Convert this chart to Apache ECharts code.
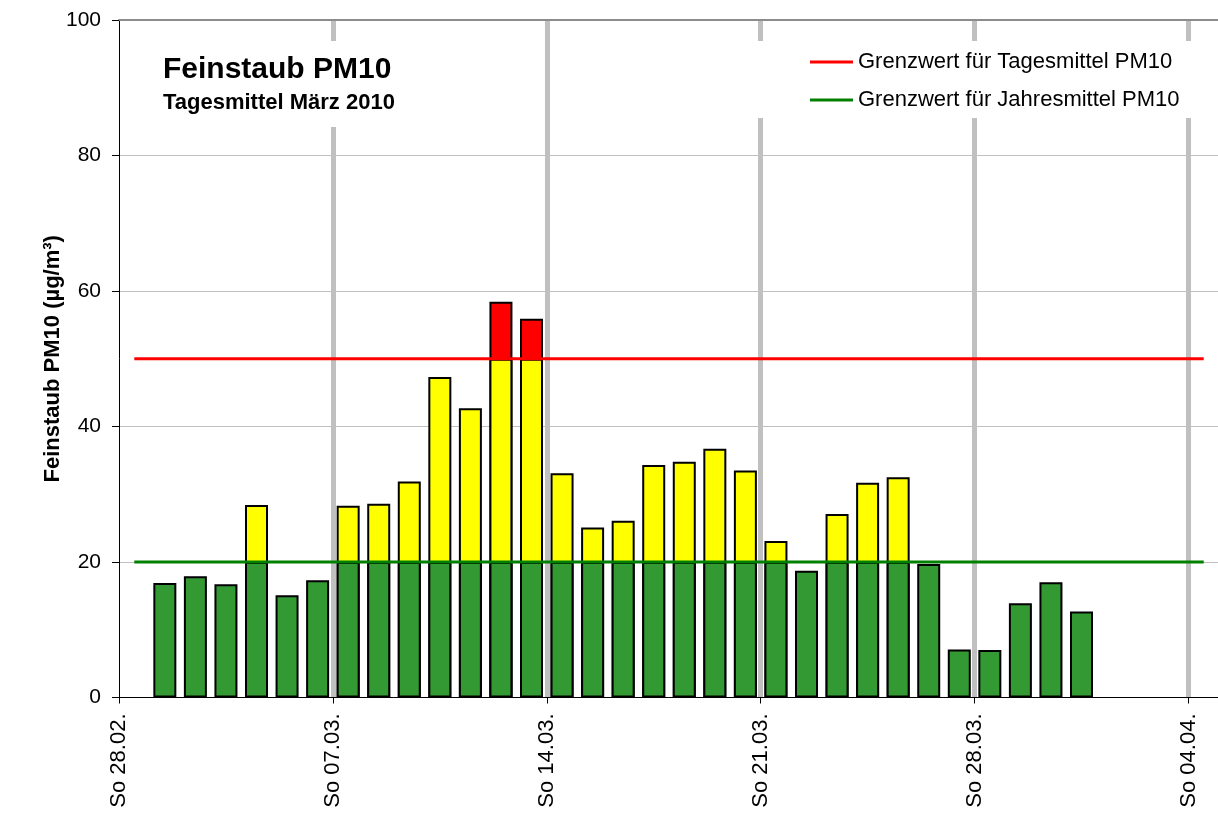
<!DOCTYPE html>
<html>
<head>
<meta charset="utf-8">
<title>Feinstaub PM10 März 2010</title>
<script src="https://cdn.jsdelivr.net/npm/echarts@6/dist/echarts.min.js"></script>
<style>
    html, body { margin: 0; padding: 0; background: #fff; }
    #chart { width: 1218px; height: 815px; }
</style>
</head>
<body>
<div id="chart"></div>
<script>
// one slot per day, 28.02. - 04.04.
var dates = ["28.02.", "01.03.", "02.03.", "03.03.", "04.03.", "05.03.", "06.03.", "07.03.", "08.03.", "09.03.",
    "10.03.", "11.03.", "12.03.", "13.03.", "14.03.", "15.03.", "16.03.", "17.03.", "18.03.", "19.03.",
    "20.03.", "21.03.", "22.03.", "23.03.", "24.03.", "25.03.", "26.03.", "27.03.", "28.03.", "29.03.",
    "30.03.", "31.03.", "01.04.", "02.04.", "03.04.", "04.04."];
var tickLabels = ["So 28.02.", "So 07.03.", "So 14.03.", "So 21.03.", "So 28.03.", "So 04.04."];
// Tagesmittel PM10 in µg/m³ (null = kein Wert)
var pm10 = [null, 16.9, 17.9, 16.7, 28.4, 15.1, 17.3, 28.3, 28.6, 31.9,
    47.3, 42.7, 58.4, 55.9, 33.1, 25.1, 26.1, 34.3, 34.8, 36.7,
    33.5, 23.1, 18.7, 27.1, 31.7, 32.5, 19.7, 7.1, 7.0, 13.9,
    17.0, 12.7, null, null, null, null];
var dailyLimit = 50;
var yearlyLimit = 20;
var dailyName = "Grenzwert für Tagesmittel PM10";
var yearlyName = "Grenzwert für Jahresmittel PM10";

var font = "'Liberation Sans', Arial, sans-serif";

// bars are overlaid: full value (red), capped at 50 (yellow), capped at 20 (green)
var redPart = [], yellowPart = [], greenPart = [], dailyLine = [], yearlyLine = [];
for (var i = 0; i < dates.length; i++) {
    var v = pm10[i];
    redPart.push([i + 0.5, v !== null && v > dailyLimit ? v : null]);
    yellowPart.push([i + 0.5, v !== null && v > yearlyLimit ? Math.min(v, dailyLimit) : null]);
    greenPart.push([i + 0.5, v !== null ? Math.min(v, yearlyLimit) : null]);
    dailyLine.push([i + 0.5, dailyLimit]);
    yearlyLine.push([i + 0.5, yearlyLimit]);
}

function barSeries(name, color, data) {
    return {
        name: name,
        type: "bar",
        barWidth: 23,
        barGap: "-100%",
        data: data,
        itemStyle: { color: color, borderColor: "#000", borderWidth: 2 },
        emphasis: { disabled: true },
        z: 2
    };
}
function limitSeries(name, color, data) {
    return {
        name: name,
        type: "line",
        data: data,
        symbol: "none",
        lineStyle: { color: color, width: 3 },
        itemStyle: { color: color },
        z: 4
    };
}

var chart = echarts.init(document.getElementById("chart"));
chart.setOption({
    animation: false,
    backgroundColor: "#fff",
    textStyle: { fontFamily: font },
    title: {
        text: "Feinstaub PM10",
        subtext: "Tagesmittel März 2010",
        left: 148,
        top: 41,
        padding: [14, 15, 13, 15],
        itemGap: 7,
        backgroundColor: "#fff",
        textStyle: { fontFamily: font, fontSize: 30, fontWeight: "bold", color: "#000", lineHeight: 30 },
        subtextStyle: { fontFamily: font, fontSize: 22, fontWeight: "bold", color: "#000", lineHeight: 22 }
    },
    legend: {
        data: [dailyName, yearlyName],
        orient: "vertical",
        left: 752,
        top: 41,
        padding: [10, 15, 7, 58],
        itemGap: 16,
        icon: "rect",
        itemWidth: 43,
        itemHeight: 3,
        backgroundColor: "#fff",
        textStyle: { fontFamily: font, fontSize: 22, color: "#000", lineHeight: 22 }
    },
    grid: { left: 119, right: -1, top: 20, bottom: 117.5, outerBoundsMode: "none" },
    xAxis: [{
        type: "value",
        min: 0,
        max: 36,
        interval: 7,
        axisLine: { show: true, lineStyle: { color: "#000", width: 1 } },
        axisTick: { show: true, length: 6, lineStyle: { color: "#000" } },
        axisLabel: {
            rotate: 90,
            margin: 16,
            fontSize: 22,
            color: "#000",
            fontFamily: font,
            showMaxLabel: false,
            formatter: function (v) {
                return v % 7 === 0 ? (tickLabels[v / 7] || "") : "";
            }
        },
        splitLine: { show: true, showMinLine: false, showMaxLine: false, lineStyle: { color: "#c0c0c0", width: 5 } }
    }, {
        type: "value",
        position: "top",
        min: 0,
        max: 36,
        axisLine: { show: true, lineStyle: { color: "#8c8c8c", width: 2 } },
        axisTick: { show: false },
        axisLabel: { show: false },
        splitLine: { show: false }
    }],
    yAxis: {
        type: "value",
        min: 0,
        max: 100,
        interval: 20,
        name: "Feinstaub PM10 (µg/m³)",
        nameLocation: "middle",
        nameGap: 55,
        nameMoveOverlap: false,
        nameTextStyle: { fontFamily: font, fontSize: 22, fontWeight: "bold", color: "#000", lineHeight: 22 },
        axisLine: { show: true, lineStyle: { color: "#000", width: 1 } },
        axisTick: { show: true, length: 7, lineStyle: { color: "#000" } },
        axisLabel: { margin: 18, fontSize: 21, color: "#000", fontFamily: font },
        splitLine: { show: true, showMaxLine: false, lineStyle: { color: "#c0c0c0", width: 1 } }
    },
    series: [
        barSeries("über 50", "#ff0000", redPart),
        barSeries("20 bis 50", "#ffff00", yellowPart),
        barSeries("unter 20", "#339933", greenPart),
        limitSeries(dailyName, "#ff0000", dailyLine),
        limitSeries(yearlyName, "#008000", yearlyLine)
    ]
});
</script>
</body>
</html>
